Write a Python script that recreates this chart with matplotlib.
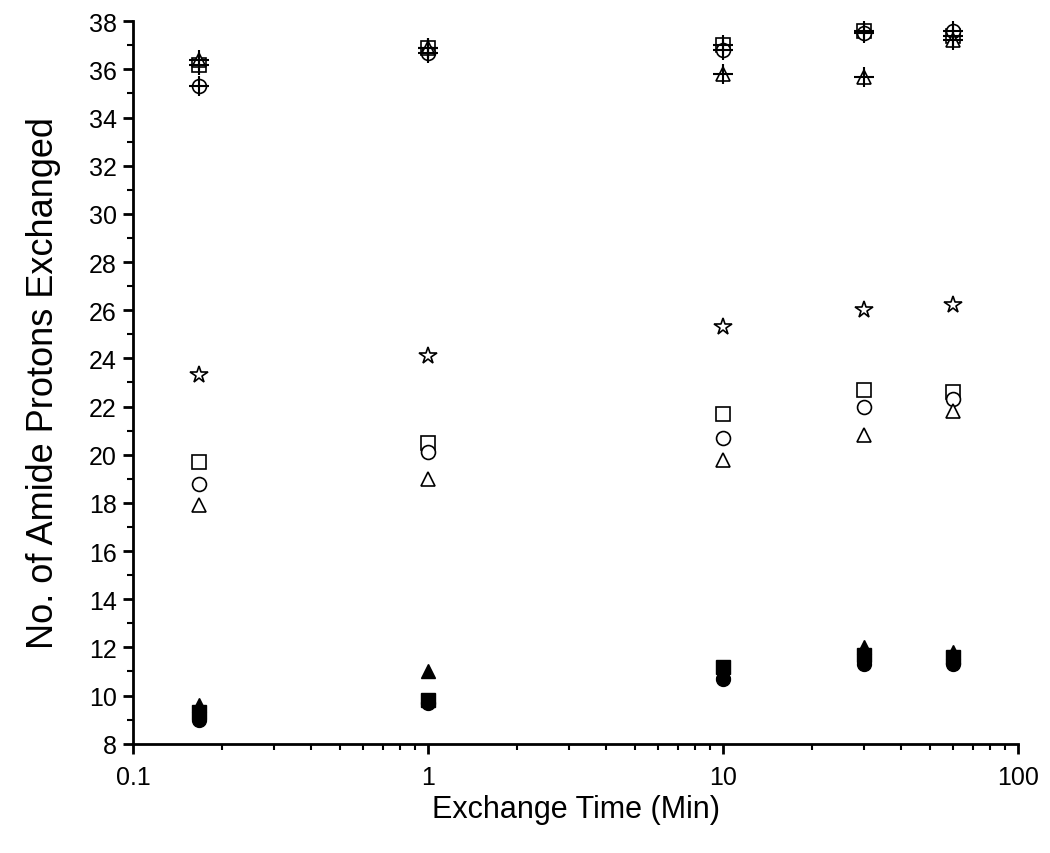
import numpy as np
import matplotlib.pyplot as plt
from matplotlib.ticker import LogLocator, MultipleLocator, FixedLocator, NullFormatter

plt.rcParams['font.family'] = ['Liberation Sans', 'DejaVu Sans']

# exchange times (min)
times = [0.167, 1, 10, 30, 60]

# upper group (open markers with a cross)
top_square = [36.2, 36.9, 37.0, 37.6, 37.4]
top_circle = [35.3, 36.7, 36.8, 37.5, 37.6]
top_triangle = [36.4, 36.9, 35.8, 35.7, 37.2]

# middle group (open markers)
mid_star = [23.3, 24.1, 25.3, 26.0, 26.2]
mid_square = [19.7, 20.5, 21.7, 22.7, 22.6]
mid_circle = [18.8, 20.1, 20.7, 22.0, 22.3]
mid_triangle = [17.9, 19.0, 19.8, 20.8, 21.8]

# lower group (filled markers)
low_triangle = [9.6, 11.0, 11.0, 12.0, 11.8]
low_square = [9.3, 9.8, 11.2, 11.7, 11.6]
low_circle = [9.0, 9.7, 10.7, 11.3, 11.3]

fig = plt.figure(figsize=(10.5, 8.54), dpi=100)
ax = fig.add_axes([0.127, 0.128, 0.843, 0.846])

ms = 10
open_kw = dict(linestyle='none', markerfacecolor='white', markeredgecolor='black',
               markeredgewidth=1.2, markersize=ms)

# top group: open markers, then a plus on top of each
ax.plot(times, top_square, marker='s', **open_kw)
ax.plot(times, top_circle, marker='o', **open_kw)
ax.plot(times, top_triangle, marker='^', **open_kw)
for vals in (top_square, top_circle, top_triangle):
    ax.plot(times, vals, marker='+', linestyle='none', color='black',
            markersize=ms + 4, markeredgewidth=1.5)

ax.plot(times, mid_star, marker='*', **dict(open_kw, markersize=ms + 3))
ax.plot(times, mid_square, marker='s', **open_kw)
ax.plot(times, mid_circle, marker='o', **open_kw)
ax.plot(times, mid_triangle, marker='^', **open_kw)

fill_kw = dict(linestyle='none', color='black', markersize=ms)
ax.plot(times, low_circle, marker='o', **fill_kw)
ax.plot(times, low_square, marker='s', **fill_kw)
ax.plot(times, low_triangle, marker='^', **fill_kw)

ax.set_xscale('log')
ax.set_xlim(0.1, 100)
ax.set_ylim(8, 38)

ax.xaxis.set_major_locator(FixedLocator([0.1, 1, 10, 100]))
ax.set_xticklabels(['0.1', '1', '10', '100'])
ax.xaxis.set_minor_locator(LogLocator(base=10, subs=np.arange(2, 10)))
ax.xaxis.set_minor_formatter(NullFormatter())
ax.yaxis.set_major_locator(MultipleLocator(2))
ax.yaxis.set_minor_locator(MultipleLocator(1))

for s in ('top', 'right'):
    ax.spines[s].set_visible(False)
for s in ('left', 'bottom'):
    ax.spines[s].set_linewidth(2)

ax.tick_params(which='major', direction='out', length=7, width=2, labelsize=18)
ax.tick_params(which='minor', direction='out', length=4, width=1.5)
ax.tick_params(axis='x', pad=8)
ax.tick_params(axis='y', pad=5)

ax.set_xlabel('Exchange Time (Min)', fontsize=22, labelpad=4)
ax.set_ylabel('No. of Amide Protons Exchanged', fontsize=26, labelpad=20)

fig.savefig('out.png', dpi=100)
